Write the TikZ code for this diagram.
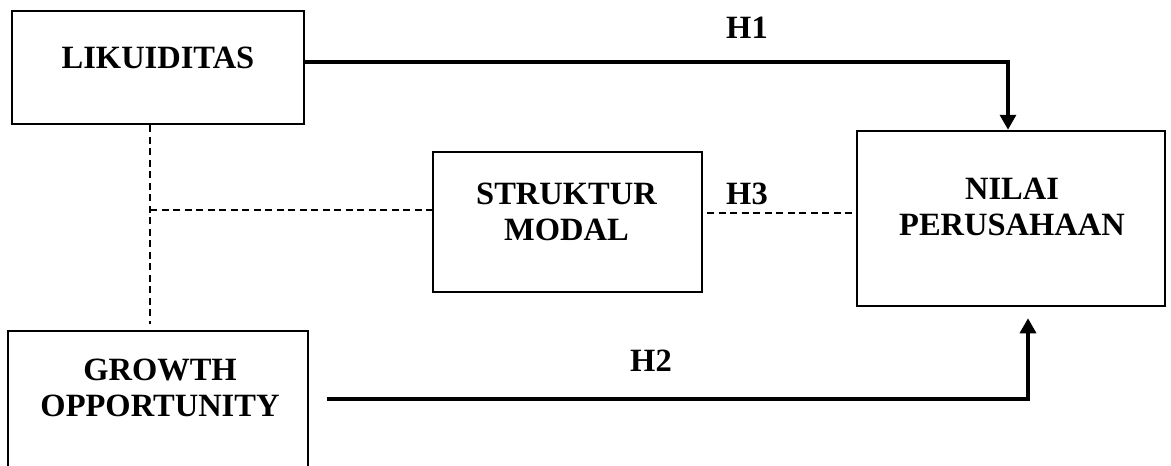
\documentclass[tikz,border=0pt]{standalone}
\usepackage{fontspec}
\setmainfont{Liberation Serif}
\usetikzlibrary{arrows.meta}
\tikzset{
  box/.style={draw, line width=2.5pt, rectangle, inner sep=0pt},
  lbl/.style={font=\fontsize{32.5}{36}\selectfont\bfseries, align=center, inner sep=0pt},
  arr/.style={line width=3.3pt, -{Triangle[width=16pt,length=15pt]}},
  dline/.style={line width=1.6pt, dash pattern=on 7pt off 4.5pt},
}
\begin{document}
\begin{tikzpicture}[x=1pt,y=-1pt]
\useasboundingbox (0,0) rectangle (1171,466);
\clip (0,0) rectangle (1171,466);
% boxes
\node[box, minimum width=292pt, minimum height=113pt] (lik) at (158,67.5) {};
\node[box, minimum width=269pt, minimum height=140pt] (str) at (567.5,222) {};
\node[box, minimum width=308pt, minimum height=175pt] (nil) at (1011,218.5) {};
\node[box, minimum width=300pt, minimum height=160pt] (gro) at (158,411) {};
% box texts
\node[lbl] (tlik) at (158,57.5) {LIKUIDITAS};
\node[lbl] (tstr) at (566.5,212) {STRUKTUR\\MODAL};
\node[lbl] (tnil) at (1012,206.5) {NILAI\\PERUSAHAAN};
\node[lbl] (tgro) at (160,388) {GROWTH\\OPPORTUNITY};
% hypothesis labels
\node[lbl] (h1) at (747,27.5) {H1};
\node[lbl] (h2) at (651,360.5) {H2};
\node[lbl] (h3) at (747,194) {H3};
% connectors
\draw[arr] ([yshift=5.5pt]lik.east) -| ([xshift=-3pt]nil.north);
\coordinate (h2s) at (327,399);
\draw[arr, shorten >=11pt] (h2s) -| ([xshift=17pt]nil.south);
\draw[dline, shorten <=4pt] ([yshift=9pt]str.east) -- ([yshift=5.5pt]nil.west);
\draw[dline, shorten >=6pt] ([xshift=-8pt]lik.south) -- ([xshift=-8pt]gro.north);
\coordinate (j) at (150,210);
\draw[dline] (j) -- ([yshift=12pt]str.west);
\end{tikzpicture}
\end{document}
